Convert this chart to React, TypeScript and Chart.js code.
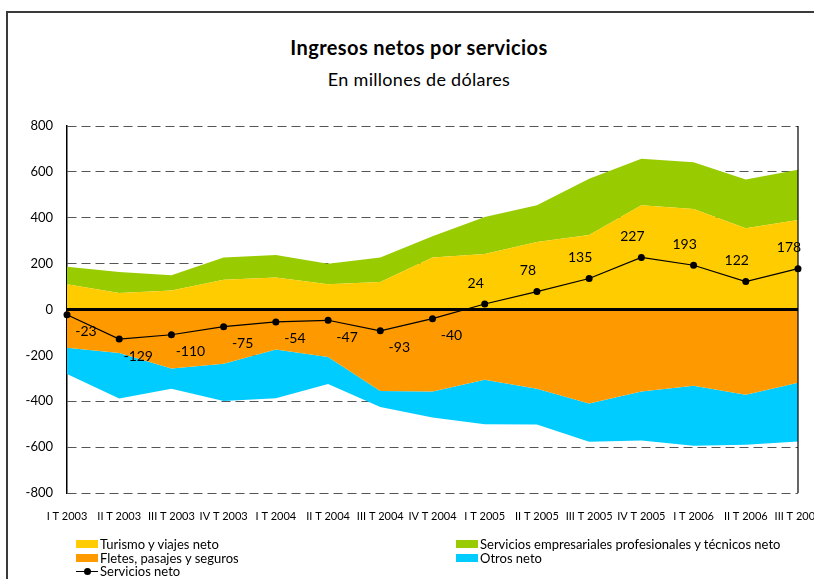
import React, { useEffect, useRef } from "react";
import { Chart, registerables } from "chart.js";

Chart.register(...registerables);

const categories = [
  "I T 2003", "II T 2003", "III T 2003", "IV T 2003",
  "I T 2004", "II T 2004", "III T 2004", "IV T 2004",
  "I T 2005", "II T 2005", "III T 2005", "IV T 2005",
  "I T 2006", "II T 2006", "III T 2006",
];

const turismo = [110, 72, 83, 130, 139, 110, 120, 227, 242, 294, 325, 454, 438, 354, 390];
const empresariales = [76, 92, 66, 97, 99, 89, 107, 92, 161, 161, 245, 203, 204, 213, 219];
const fletes = [-167, -190, -257, -236, -174, -207, -355, -357, -306, -345, -410, -358, -332, -372, -319];
const otros = [-114, -198, -89, -163, -213, -118, -70, -114, -194, -156, -167, -213, -262, -218, -256];
const serviciosNeto = [-23, -129, -110, -75, -54, -47, -93, -40, 24, 78, 135, 227, 193, 122, 178];

const yTicks = { min: -800, max: 800, step: 200 };

const TITLE = "Ingresos netos por servicios";
const SUBTITLE = "En millones de dólares";

const FONT = "Lato, 'Open Sans', sans-serif";

const COLORS = {
  turismo: "#FFCC00",
  empresariales: "#99CC00",
  fletes: "#FF9900",
  otros: "#00CCFF",
  neto: "#000000",
};

const decorPlugin = {
  id: "decor",
  beforeDatasetDraw(chart: any, args: any) {
    if (args.index !== 4) return;
    const { ctx, chartArea, scales } = chart;
    const y0 = scales.y.getPixelForValue(0);
    ctx.save();
    ctx.strokeStyle = "#000";
    ctx.lineWidth = 3;
    ctx.beginPath();
    ctx.moveTo(chartArea.left, y0);
    ctx.lineTo(chartArea.right, y0);
    ctx.stroke();
    ctx.lineWidth = 1.2;
    ctx.beginPath();
    ctx.moveTo(chartArea.right, chartArea.top);
    ctx.lineTo(chartArea.right, chartArea.bottom);
    ctx.stroke();
    ctx.restore();
  },
  afterDatasetsDraw(chart: any) {
    const { ctx } = chart;
    const meta = chart.getDatasetMeta(4);
    const values = chart.data.datasets[4].data;
    ctx.save();
    ctx.font = `14px ${FONT}`;
    ctx.fillStyle = "#000";
    ctx.textAlign = "center";
    ctx.textBaseline = "middle";
    meta.data.forEach((pt: any, i: number) => {
      const v = values[i];
      const dx = v < 0 ? 19 : -9;
      const dy = v < 0 ? 17 : -21;
      ctx.fillText(String(v), pt.x + dx, pt.y + dy);
    });
    ctx.restore();
  },
};

const legendRows = [
  { col: 0, row: 0, label: "Turismo y viajes neto", color: COLORS.turismo, kind: "box" },
  { col: 0, row: 1, label: "Fletes, pasajes y seguros", color: COLORS.fletes, kind: "box" },
  { col: 0, row: 2, label: "Servicios neto", color: COLORS.neto, kind: "line" },
  { col: 1, row: 0, label: "Servicios empresariales profesionales y técnicos neto", color: COLORS.empresariales, kind: "box" },
  { col: 1, row: 1, label: "Otros neto", color: COLORS.otros, kind: "box" },
];

export default function App() {
  const canvasRef = useRef<HTMLCanvasElement | null>(null);

  useEffect(() => {
    const canvas = canvasRef.current;
    if (!canvas) return;
    const chart = new Chart(canvas, {
      type: "line",
      data: {
        labels: categories,
        datasets: [
          {
            label: "Turismo y viajes neto",
            data: turismo,
            backgroundColor: COLORS.turismo,
            borderWidth: 0,
            pointRadius: 0,
            fill: "origin",
            stack: "a",
          },
          {
            label: "Servicios empresariales profesionales y técnicos neto",
            data: empresariales,
            backgroundColor: COLORS.empresariales,
            borderWidth: 0,
            pointRadius: 0,
            fill: "-1",
            stack: "a",
          },
          {
            label: "Fletes, pasajes y seguros",
            data: fletes,
            backgroundColor: COLORS.fletes,
            borderWidth: 0,
            pointRadius: 0,
            fill: "origin",
            stack: "a",
          },
          {
            label: "Otros neto",
            data: otros,
            backgroundColor: COLORS.otros,
            borderWidth: 0,
            pointRadius: 0,
            fill: "-1",
            stack: "a",
          },
          {
            label: "Servicios neto",
            data: serviciosNeto,
            borderColor: COLORS.neto,
            backgroundColor: COLORS.neto,
            borderWidth: 1.2,
            pointRadius: 3.5,
            pointBackgroundColor: COLORS.neto,
            pointBorderWidth: 0,
            fill: false,
            stack: "b",
            order: -1,
          },
        ],
      } as any,
      options: {
        animation: false,
        responsive: false,
        maintainAspectRatio: false,
        layout: { padding: { left: 10, right: 16, top: 126, bottom: 0 } },
        elements: { line: { tension: 0 } },
        plugins: {
          legend: { display: false },
          tooltip: { enabled: false },
          title: { display: false },
        },
        scales: {
          x: {
            type: "category",
            offset: false,
            grid: { display: false, drawTicks: false },
            border: { display: false },
            ticks: {
              color: "#000",
              font: { family: FONT, size: 11 },
              autoSkip: false,
              maxRotation: 0,
              minRotation: 0,
              padding: 17,
            },
            afterFit(scale: any) {
              scale.height = 86;
              scale.paddingLeft = 0;
              scale.paddingRight = 0;
            },
          },
          y: {
            stacked: true,
            min: yTicks.min,
            max: yTicks.max,
            grid: {
              drawTicks: false,
              color: (ctx: any) => (ctx.tick && ctx.tick.value === 0 ? "rgba(0,0,0,0)" : "#555"),
              lineWidth: 1,
            },
            border: { display: true, color: "#000", width: 1.5, dash: [9, 5] },
            ticks: {
              stepSize: yTicks.step,
              color: "#000",
              font: { family: FONT, size: 13 },
              padding: 14,
            },
            afterFit(scale: any) {
              scale.width = 57;
            },
          },
        },
      } as any,
      plugins: [decorPlugin],
    });
    return () => chart.destroy();
  }, []);

  return (
    <div
      style={{
        position: "fixed",
        left: 0,
        top: 0,
        width: 814,
        height: 579,
        overflow: "hidden",
        background: "#fff",
        fontFamily: FONT,
      }}
    >
      <div
        style={{
          position: "absolute",
          left: 6,
          top: 11,
          width: 900,
          height: 700,
          borderLeft: "2px solid #3a3a3a",
          borderTop: "2px solid #3a3a3a",
        }}
      />
      <div
        style={{
          position: "absolute",
          left: 0,
          width: 838,
          top: 36,
          textAlign: "center",
          fontSize: 20,
          fontWeight: "bold",
          letterSpacing: 0.4,
          lineHeight: "22px",
          color: "#000",
        }}
      >
        {TITLE}
      </div>
      <div
        style={{
          position: "absolute",
          left: 0,
          width: 838,
          top: 68,
          textAlign: "center",
          fontSize: 18,
          letterSpacing: 0.3,
          lineHeight: "22px",
          color: "#000",
        }}
      >
        {SUBTITLE}
      </div>
      <canvas
        ref={canvasRef}
        width={814}
        height={579}
        style={{ position: "absolute", left: 0, top: 0, width: 814, height: 579 }}
      />
      {legendRows.map((r, i) => {
        const left = r.col === 0 ? 76 : 456;
        const top = 537 + r.row * 13.5;
        return (
          <div
            key={i}
            style={{
              position: "absolute",
              left,
              top,
              height: 14,
              display: "flex",
              alignItems: "center",
              fontSize: 13,
              lineHeight: "14px",
              color: "#000",
              whiteSpace: "nowrap",
            }}
          >
            {r.kind === "box" ? (
              <span
                style={{
                  display: "inline-block",
                  width: 22,
                  height: 8,
                  background: r.color,
                  marginRight: 2,
                }}
              />
            ) : (
              <span
                style={{
                  position: "relative",
                  display: "inline-block",
                  width: 22,
                  height: 8,
                  marginRight: 2,
                }}
              >
                <span
                  style={{
                    position: "absolute",
                    left: 0,
                    top: 3.5,
                    width: 22,
                    height: 1,
                    background: "#000",
                  }}
                />
                <span
                  style={{
                    position: "absolute",
                    left: 8,
                    top: 0.5,
                    width: 7,
                    height: 7,
                    borderRadius: "50%",
                    background: "#000",
                  }}
                />
              </span>
            )}
            <span>{r.label}</span>
          </div>
        );
      })}
    </div>
  );
}
